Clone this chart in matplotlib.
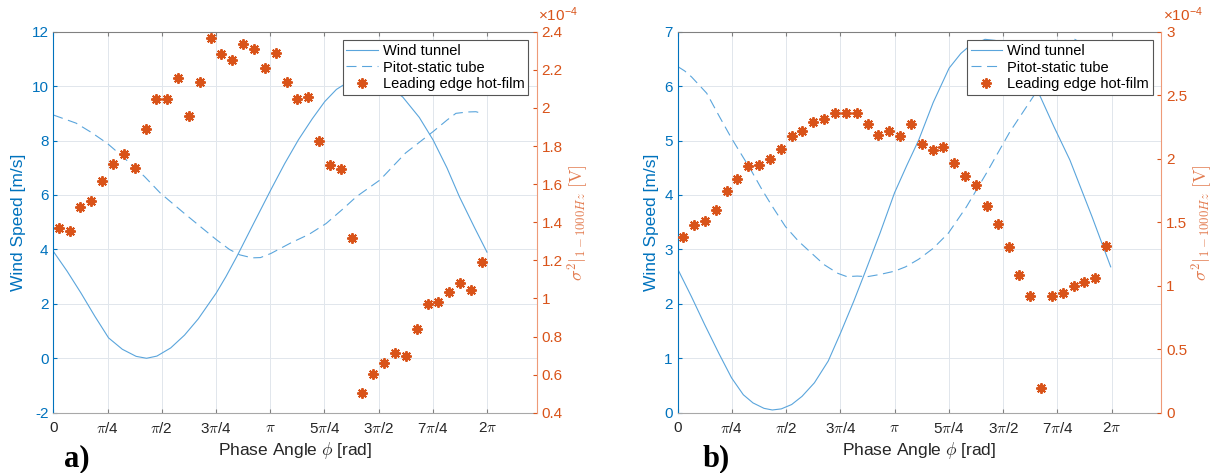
import matplotlib.pyplot as plt
import numpy as np

plt.rcParams['font.family'] = ['Liberation Sans', 'DejaVu Sans']
plt.rcParams['mathtext.fontset'] = 'cm'

BLUE = '#0072BD'
LINE = '#5aa5dc'
ORANGE = '#D95319'
DARK = '#262626'

# phase bins of the hot-film data (40 bins over one cycle, bin centres)
phase_bins = (np.arange(40) + 0.5) * 2 * np.pi / 40

# ---- case a) ----
wt_a_phi = [0.00, 0.20, 0.40, 0.60, 0.80, 1.00, 1.20, 1.35, 1.50, 1.70, 1.90, 2.10,
            2.36, 2.50, 2.66, 2.90, 3.15, 3.35, 3.55, 3.75, 3.93, 4.10, 4.25, 4.40,
            4.60, 4.80, 5.06, 5.30, 5.50, 5.70, 5.88, 6.10, 6.28]
wt_a = [3.93, 3.20, 2.40, 1.55, 0.75, 0.33, 0.07, 0.00, 0.08, 0.38, 0.85, 1.45,
        2.40, 3.00, 3.75, 4.95, 6.19, 7.15, 8.03, 8.80, 9.43, 9.88, 10.12, 10.26,
        10.30, 10.10, 9.60, 8.85, 8.02, 7.00, 5.94, 4.80, 3.90]
pt_a_phi = [0.00, 0.33, 0.55, 0.78, 1.00, 1.32, 1.55, 1.89, 2.10, 2.36, 2.55, 2.70,
            2.88, 3.00, 3.15, 3.44, 3.70, 3.95, 4.20, 4.39, 4.73, 5.10, 5.50, 5.70,
            5.83, 6.00, 6.12, 6.20]
pt_a = [8.94, 8.64, 8.30, 7.90, 7.42, 6.68, 6.07, 5.34, 4.90, 4.36, 4.00, 3.80,
        3.69, 3.70, 3.85, 4.24, 4.55, 4.95, 5.50, 5.94, 6.55, 7.54, 8.33, 8.75,
        9.00, 9.05, 9.06, 9.00]
# hot-film variance, units of 1e-4 V
hf_a = [1.368, 1.352, 1.478, 1.509, 1.614, 1.703, 1.759, 1.687, 1.890, 2.049,
        2.049, 2.157, 1.960, 2.134, 2.369, 2.285, 2.252, 2.337, 2.307, 2.211,
        2.290, 2.134, 2.049, 2.059, 1.824, 1.700, 1.679, 1.317, 0.505, 0.601,
        0.662, 0.711, 0.697, 0.837, 0.971, 0.980, 1.032, 1.081, 1.046, 1.191]

# ---- case b) ----
wt_b_phi = [0.00, 0.20, 0.39, 0.60, 0.78, 0.95, 1.09, 1.25, 1.37, 1.50, 1.65, 1.80,
            1.98, 2.18, 2.36, 2.55, 2.71, 2.93, 3.14, 3.32, 3.49, 3.70, 3.93, 4.10,
            4.21, 4.45, 4.60, 4.80, 5.00, 5.25, 5.45, 5.68, 6.00, 6.27]
wt_b = [2.64, 2.13, 1.62, 1.08, 0.64, 0.33, 0.18, 0.08, 0.05, 0.07, 0.15, 0.30,
        0.55, 0.95, 1.47, 2.05, 2.57, 3.30, 4.04, 4.55, 5.01, 5.70, 6.33, 6.60,
        6.72, 6.86, 6.84, 6.60, 6.25, 5.81, 5.25, 4.64, 3.60, 2.68]
pt_b_phi = [0.00, 0.10, 0.20, 0.42, 0.60, 0.78, 0.92, 1.06, 1.22, 1.37, 1.56, 1.75,
            1.93, 2.12, 2.32, 2.45, 2.60, 2.75, 2.93, 3.14, 3.30, 3.49, 3.70, 3.92,
            4.18, 4.47, 4.81, 5.15, 5.45, 5.60, 5.75, 5.90, 6.10, 6.25]
pt_b = [6.36, 6.28, 6.17, 5.87, 5.45, 5.04, 4.75, 4.46, 4.10, 3.79, 3.42, 3.15,
        2.94, 2.72, 2.56, 2.50, 2.51, 2.50, 2.54, 2.60, 2.68, 2.82, 3.02, 3.30,
        3.78, 4.40, 5.16, 5.81, 6.40, 6.75, 6.86, 6.75, 6.50, 6.30]
hf_b = [1.384, 1.478, 1.507, 1.598, 1.742, 1.842, 1.939, 1.947, 1.997, 2.075,
        2.180, 2.217, 2.287, 2.311, 2.363, 2.363, 2.358, 2.272, 2.190, 2.217,
        2.180, 2.272, 2.112, 2.065, 2.094, 1.965, 1.866, 1.795, 1.630, 1.488,
        1.305, 1.087, 0.922, 0.192, 0.917, 0.943, 0.996, 1.030, 1.059, 1.315]

xtick_labels = ['0', r'$\pi$/4', r'$\pi$/2', r'3$\pi$/4', r'$\pi$',
                r'5$\pi$/4', r'3$\pi$/2', r'7$\pi$/4', r'2$\pi$']

legend_labels = ['Wind tunnel', 'Pitot-static tube', 'Leading edge hot-film']


def draw_panel(rect, wt_phi, wt, pt_phi, pt, hf, ylim1, yticks1, ylim2, yticks2,
               tag, tag_x):
    ax1 = fig.add_axes(rect)
    ax2 = ax1.twinx()

    l1, = ax1.plot(wt_phi, wt, color=LINE, lw=0.8, ls='-')
    l2, = ax1.plot(pt_phi, pt, color=LINE, lw=0.8, ls=(0, (9, 5)))
    l3, = ax2.plot(phase_bins, hf, ls='none', marker=(8, 2, 0), ms=7.5,
                   mew=1.4, color=ORANGE)

    ax1.set_xlim(0, 7)
    ax1.set_xticks(np.arange(9) * np.pi / 4)
    ax1.set_xticklabels(xtick_labels)
    ax1.set_ylim(*ylim1)
    ax1.set_yticks(yticks1)
    ax1.set_yticklabels([f'{v:g}' for v in yticks1])
    ax2.set_ylim(*ylim2)
    ax2.set_yticks(yticks2)
    ax2.set_yticklabels([f'{v:g}' for v in yticks2])

    ax1.grid(True, color='#e1e6ec', lw=0.7)
    ax1.set_axisbelow(True)

    ax1.tick_params(axis='x', direction='in', length=3, top=True, colors='#808080',
                    labelcolor=DARK, labelsize=11, pad=6)
    ax1.tick_params(axis='y', direction='in', length=3, colors=BLUE, labelsize=11)
    ax2.tick_params(axis='y', direction='in', length=3, colors=ORANGE, labelsize=11)

    ax1.spines['left'].set_color(BLUE)
    ax1.spines['top'].set_color('#808080')
    ax1.spines['bottom'].set_color('#a8a8a8')
    ax1.spines['right'].set_visible(False)
    for s in ['left', 'top', 'bottom']:
        ax2.spines[s].set_visible(False)
    ax2.spines['right'].set_color('#ee9a78')

    ax1.set_xlabel(r'Phase Angle $\phi$ [rad]', fontsize=12.5, color=DARK, labelpad=3)
    ax1.set_ylabel('Wind Speed [m/s]', fontsize=12.5, color=BLUE, labelpad=4)
    ax2.set_ylabel(r'$\sigma^2|_{1-1000Hz}\ [\mathrm{V}]$', fontsize=13,
                   color='#e27a4e', labelpad=2)

    ax2.text(1.003, 1.027, r'×10$^{\mathdefault{-4}}$', transform=ax2.transAxes,
             ha='left', va='baseline', color=ORANGE, fontsize=11)

    leg = ax2.legend([l1, l2, l3], legend_labels, loc='upper right',
                     bbox_to_anchor=(1 - 8.5 / 483, 1 - 8.3 / 381), borderaxespad=0,
                     fancybox=False, framealpha=1, edgecolor='#555555',
                     fontsize=10.5, handlelength=2.15, handletextpad=0.35,
                     borderpad=0.25, labelspacing=0.2)
    leg.get_frame().set_linewidth(0.8)

    fig.text(tag_x / 1215, 1 - 459 / 473, tag, family='Liberation Serif',
             weight='bold', fontsize=22, ha='left', va='center')


fig = plt.figure(figsize=(12.15, 4.73), dpi=100)

draw_panel([53.3 / 1215, 60.3 / 473, 483.4 / 1215, 381 / 473],
           wt_a_phi, wt_a, pt_a_phi, pt_a, hf_a,
           (-2, 12), list(range(-2, 13, 2)), (0.4, 2.4),
           [0.4, 0.6, 0.8, 1, 1.2, 1.4, 1.6, 1.8, 2, 2.2, 2.4], 'a)', 64)

draw_panel([677.7 / 1215, 60.3 / 473, 483.4 / 1215, 381 / 473],
           wt_b_phi, wt_b, pt_b_phi, pt_b, hf_b,
           (0, 7), list(range(0, 8)), (0, 3),
           [0, 0.5, 1, 1.5, 2, 2.5, 3], 'b)', 703)

fig.savefig('out.png', dpi=100)
